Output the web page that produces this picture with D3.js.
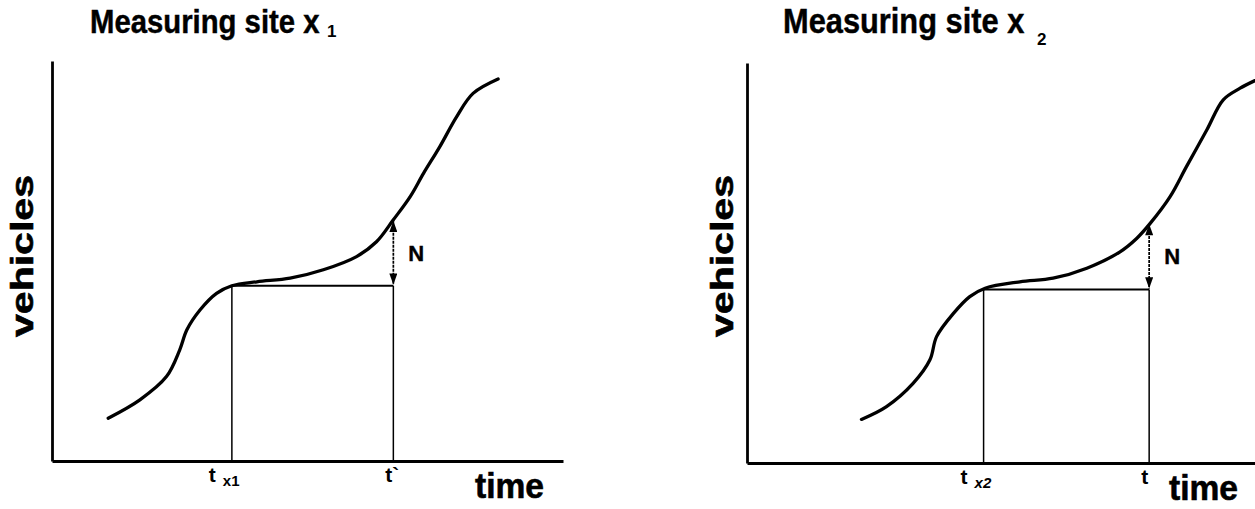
<!DOCTYPE html>
<html>
<head>
<meta charset="utf-8">
<script src="https://cdn.jsdelivr.net/npm/d3@7/dist/d3.min.js"></script>
<style>
  html, body { margin: 0; padding: 0; background: #fff; }
  svg { display: block; }
  text { font-family: "Liberation Sans", Arial, Helvetica, sans-serif; fill: #000; }
</style>
</head>
<body>
<svg id="chart" width="1255" height="509"></svg>
<script>
// ---- Data (time and vehicle counts, arbitrary units 0..100) ----
const titles = ["Measuring site x", "Measuring site x"];
const titleSubs = ["1", "2"];
const yLabel = "vehicles";
const xLabel = "time";

// Cumulative vehicle curve at site x1
const timeX1 = [11.0, 17.2, 22.4, 25.0, 26.4, 29.0, 32.2, 35.2, 40.1, 46.6, 53.1, 59.6, 63.5, 66.8, 70.1, 72.7, 75.9, 79.2, 82.4, 87.3];
const vehX1  = [10.7, 15.3, 21.1, 27.8, 32.8, 37.8, 41.9, 43.8, 44.8, 45.7, 47.8, 51.1, 54.8, 60.3, 66.1, 71.9, 78.6, 86.1, 91.9, 95.5];

// Cumulative vehicle curve at site x2
const timeX2 = [22.4, 27.3, 32.5, 35.8, 37.1, 40.4, 43.6, 46.6, 53.4, 59.9, 66.5, 73.0, 76.3, 78.9, 82.8, 86.0, 90.0, 93.2, 96.5, 99.4];
const vehX2  = [10.9, 14.1, 19.9, 25.8, 31.6, 37.4, 41.6, 43.7, 45.3, 46.2, 48.7, 52.8, 56.2, 59.9, 66.6, 74.1, 83.3, 90.8, 93.7, 95.6];

// Reference times and levels: [start time, end time], [level at start, level at end]
const markTimes  = [[35.2, 66.8], [46.3, 78.7]];
const markLevels = [[43.8, 60.3], [43.4, 60.0]];
const tickMain = ["t", "t"];
const tickSub  = ["x1", "x2"];
const tickEnd  = ["t`", "t"];
const diffLabel = "N";

// ---- Layout ----
const svg = d3.select("#chart");
const panels = [
  { x0: 52,  x1: 563,  y0: 461, y1: 61, title: [90, 33],  tsize: 29.3, sub: [327, 37], ylab: 33, tx: 475 },
  { x0: 747, x1: 1258, y0: 463, y1: 63, title: [783, 33], tsize: 30.8, sub: [1037, 45], ylab: 733, tx: 1169 }
];
const series = [[timeX1, vehX1], [timeX2, vehX2]];

const defs = svg.append("defs");
["up", "down"].forEach(dir => {
  defs.append("marker")
    .attr("id", "arrow-" + dir)
    .attr("viewBox", "0 0 10 14")
    .attr("refX", 5).attr("refY", 0)
    .attr("markerWidth", 8).attr("markerHeight", 12)
    .attr("markerUnits", "userSpaceOnUse")
    .attr("orient", dir === "up" ? 0 : 180)
    .append("path").attr("d", "M5,0 L10,14 L0,14 Z").attr("fill", "#000");
});

panels.forEach((p, i) => {
  const g = svg.append("g");
  const x = d3.scaleLinear().domain([0, 100]).range([p.x0, p.x1]);
  const y = d3.scaleLinear().domain([0, 100]).range([p.y0, p.y1]);

  // axes (domain lines only)
  const ax = g.append("g").attr("transform", `translate(0,${p.y0})`)
    .call(d3.axisBottom(x).ticks(0).tickSizeOuter(0));
  const ay = g.append("g").attr("transform", `translate(${p.x0},0)`)
    .call(d3.axisLeft(y).ticks(0).tickSizeOuter(0));
  [ax, ay].forEach(a => a.select(".domain").attr("stroke", "#000").attr("stroke-width", 2.8));

  // curve
  const pts = series[i][0].map((t, k) => [t, series[i][1][k]]);
  g.append("path")
    .datum(pts)
    .attr("fill", "none").attr("stroke", "#000").attr("stroke-width", 3.3)
    .attr("stroke-linecap", "round")
    .attr("d", d3.line().x(d => x(d[0])).y(d => y(d[1])).curve(d3.curveCatmullRom.alpha(0.5)));

  const [tA, tB] = markTimes[i];
  const [lA, lB] = markLevels[i];

  // verticals and horizontal
  g.append("line").attr("x1", x(tA)).attr("x2", x(tA)).attr("y1", y(lA)).attr("y2", y(0))
    .attr("stroke", "#000").attr("stroke-width", 1.5);
  g.append("line").attr("x1", x(tB)).attr("x2", x(tB)).attr("y1", y(lA)).attr("y2", y(0))
    .attr("stroke", "#000").attr("stroke-width", 1.5);
  g.append("line").attr("x1", x(tA)).attr("x2", x(tB)).attr("y1", y(lA)).attr("y2", y(lA))
    .attr("stroke", "#000").attr("stroke-width", 2);

  // double-headed arrow
  g.append("line").attr("x1", x(tB)).attr("x2", x(tB)).attr("y1", y(lB) + 1).attr("y2", y(lA) - 1)
    .attr("stroke", "#000").attr("stroke-width", 1.7).attr("stroke-dasharray", "3,1")
    .attr("marker-start", "url(#arrow-up)").attr("marker-end", "url(#arrow-down)");

  g.append("text").attr("x", x(tB) + 15).attr("y", (y(lA) + y(lB)) / 2 + 8)
    .attr("font-size", 22).attr("font-weight", "bold")
    .attr("stroke", "#000").attr("stroke-width", 0.4).text(diffLabel);

  // tick labels
  g.append("text").attr("x", x(tA) - 23).attr("y", p.y0 + 21)
    .attr("font-size", 21).attr("font-weight", "bold").text(tickMain[i]);
  g.append("text").attr("x", x(tA) - 9).attr("y", p.y0 + 25)
    .attr("font-size", 15).attr("font-weight", "bold")
    .attr("font-style", i === 1 ? "italic" : "normal").text(tickSub[i]);
  g.append("text").attr("x", x(tB) - 8).attr("y", p.y0 + 21)
    .attr("font-size", 21).attr("font-weight", "bold").text(tickEnd[i]);

  // axis titles
  g.append("text").attr("x", p.tx).attr("y", p.y0 + 37)
    .attr("font-size", 35).attr("font-weight", "bold")
    .attr("stroke", "#000").attr("stroke-width", 0.6)
    .attr("textLength", 69).attr("lengthAdjust", "spacingAndGlyphs").text(xLabel);
  g.append("text")
    .attr("transform", `translate(${p.ylab},256) rotate(-90)`)
    .attr("text-anchor", "middle")
    .attr("font-size", 31).attr("font-weight", "bold")
    .attr("stroke", "#000").attr("stroke-width", 0.6)
    .attr("textLength", 162).attr("lengthAdjust", "spacingAndGlyphs").text(yLabel);

  // panel title (stretched vertically to match the tall lettering)
  g.append("text")
    .attr("transform", `translate(${p.title[0]},${p.title[1]}) scale(1,1.12)`)
    .attr("font-size", p.tsize).attr("font-weight", "bold")
    .attr("stroke", "#000").attr("stroke-width", 0.4)
    .text(titles[i]);
  g.append("text").attr("x", p.sub[0]).attr("y", p.sub[1])
    .attr("font-size", 17).attr("font-weight", "bold").text(titleSubs[i]);
});
</script>
</body>
</html>
